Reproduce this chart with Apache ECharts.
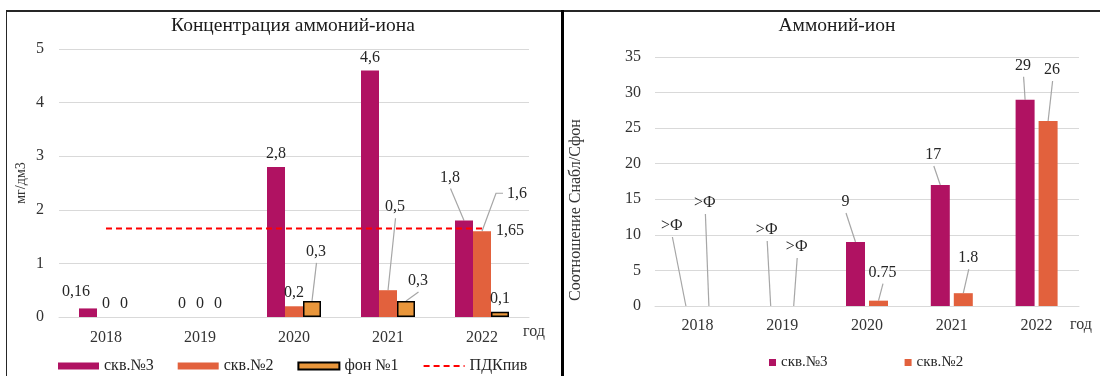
<!DOCTYPE html>
<html>
<head>
<meta charset="utf-8">
<script src="https://cdn.jsdelivr.net/npm/echarts@6/dist/echarts.min.js"></script>
<style>
  html, body { margin: 0; padding: 0; background: #fff; }
  #wrap { position: relative; width: 1100px; height: 376px; overflow: hidden; }
  #chart { position: absolute; left: 0; top: 0; width: 1100px; height: 376px; }
  .frame { position: absolute; background: #262626; pointer-events: none; }
</style>
</head>
<body>
<div id="wrap">
  <div id="chart"></div>
  <!-- panel frames -->
  <div class="frame" style="left:6px;top:10px;width:1px;height:366px"></div>
  <div class="frame" style="left:6px;top:10px;width:1094px;height:2px"></div>
  <div class="frame" style="left:561px;top:10px;width:3px;height:366px;background:#000"></div>
</div>
<script>
// ---- data ----
const years = ['2018', '2019', '2020', '2021', '2022'];

// concentration, mg/dm3
const well3Conc = [0.16, 0, 2.8, 4.6, 1.8];
const well2Conc = [0, 0, 0.2, 0.5, 1.6];
const backgroundConc = [0, 0, 0.3, 0.3, 0.1];
const pdkLimit = 1.65;

// ratio C_obs / C_background (0 = background is zero, shown as ">Ф")
const well3Ratio = [0, 0, 9, 17, 29];
const well2Ratio = [0, 0, 0.75, 1.8, 26];

const seriesNames = ['скв.№3', 'скв.№2', 'фон №1', 'ПДКпив'];

// ---- styling ----
const FONT = '"Liberation Serif", "Times New Roman", serif';
const C_WELL3 = '#b01262';
const C_WELL2 = '#e2613d';
const C_BG = '#e9963b';
const C_GRID = '#d9d9d9';
const C_TEXT = '#262626';
const C_LEADER = '#a6a6a6';

const BAR_W_LEFT = 18, GAP_LEFT = 0;     // touching bars
const BAR_W_RIGHT = 19, GAP_RIGHT = 4;

// label offsets (label centre relative to the top centre of its bar), by data index;
// 'side'  - the leader leaves the label horizontally from its left side
// 'free'  - label is shifted but gets no leader
const moveWell3Conc = { 0: [-12, -17, 'free'], 4: [-14, -43] };
const moveWell2Conc = { 3: [7, -83], 4: [35, -37, 'side'] };
const moveBgConc = { 2: [4, -49], 3: [12, -20] };
const moveWell3Ratio = { 0: [-14, -80], 1: [-4, -76], 2: [-10, -40], 3: [-7, -30], 4: [-2, -34] };
const moveWell2Ratio = { 0: [-4, -103], 1: [3, -59], 2: [4, -28], 3: [5, -35], 4: [4, -51] };

function shifted(moves) {
  return function (p) {
    const m = moves[p.dataIndex];
    if (!m) return null;
    return {
      x: p.rect.x + p.rect.width / 2 + m[0],
      y: p.rect.y + m[1],
      align: 'center',
      verticalAlign: 'middle'
    };
  };
}

// rows for the leader lines: [category, value, slot offset px, dx, dy, side]
function leaderRows(groups, barW, gap) {
  const rows = [];
  const n = groups.length;
  groups.forEach(function (g, k) {
    const slot = (k - (n - 1) / 2) * (barW + gap);
    Object.keys(g.moves).forEach(function (key) {
      const i = Number(key);
      const m = g.moves[key];
      if (m[2] === 'free') return;
      rows.push([i, g.values[i], slot, m[0], m[1], m[2] === 'side' ? 1 : 0]);
    });
  });
  return rows;
}

function renderLeader(params, api) {
  const p = api.coord([api.value(0), api.value(1)]);
  const bx = p[0] + api.value(2);
  const by = p[1];
  const lx = bx + api.value(3);
  const ly = by + api.value(4);
  const pts = api.value(5) === 1
    ? [[lx - 14, ly - 1], [lx - 21, ly - 1], [bx, by]]
    : [[lx + 0.5, ly + 11], [bx, by]];
  return {
    type: 'polyline',
    shape: { points: pts },
    style: { stroke: C_LEADER, lineWidth: 1.2, fill: null },
    silent: true
  };
}

const commaNum = p => String(p.value).replace('.', ',');
const ratioText = p => (p.value === 0 ? '>Ф' : String(p.value));

const labelBase = {
  show: true,
  position: 'top',
  distance: 5,
  fontSize: 16,
  fontFamily: FONT,
  color: C_TEXT
};

const axisText = { fontSize: 16, fontFamily: FONT, color: '#333' };

const option = {
  animation: false,
  textStyle: { fontFamily: FONT },
  graphic: [
    {
      type: 'text', x: 293, y: 26,
      style: { text: 'Концентрация аммоний-иона', font: '19.5px ' + FONT, fill: '#1a1a1a', align: 'center', verticalAlign: 'middle' }
    },
    {
      type: 'text', x: 837, y: 26,
      style: { text: 'Аммоний-ион', font: '19.5px ' + FONT, fill: '#1a1a1a', align: 'center', verticalAlign: 'middle' }
    }
  ],
  legend: [
    {
      left: 58, top: 358, padding: 0,
      itemWidth: 41, itemHeight: 7, itemGap: 24,
      textStyle: { fontSize: 16, fontFamily: FONT, color: C_TEXT },
      data: [
        { name: seriesNames[0], icon: 'rect' },
        { name: seriesNames[1], icon: 'rect' },
        { name: seriesNames[2], icon: 'rect' },
        { name: seriesNames[3], itemStyle: { color: 'rgba(0,0,0,0)', borderWidth: 0, opacity: 0 } }
      ]
    },
    {
      left: 769, top: 355, padding: 0,
      itemWidth: 7, itemHeight: 7, itemGap: 77, icon: 'rect',
      textStyle: { fontSize: 15, fontFamily: FONT, color: C_TEXT },
      data: [seriesNames[0], seriesNames[1]]
    }
  ],
  grid: [
    { left: 59, top: 49, width: 470, height: 268 },
    { left: 655, top: 57, width: 424, height: 249 }
  ],
  xAxis: [
    {
      type: 'category', gridIndex: 0, data: years,
      axisTick: { show: false },
      axisLine: { lineStyle: { color: C_GRID, width: 1 } },
      axisLabel: Object.assign({ margin: 13 }, axisText),
      name: 'год', nameLocation: 'end', nameGap: -6,
      nameTextStyle: Object.assign({ verticalAlign: 'top', padding: [7, 0, 0, 0] }, axisText)
    },
    {
      type: 'category', gridIndex: 1, data: years,
      axisTick: { show: false },
      axisLine: { lineStyle: { color: C_GRID, width: 1 } },
      axisLabel: Object.assign({ margin: 12 }, axisText),
      name: 'год', nameLocation: 'end', nameGap: -9,
      nameTextStyle: Object.assign({ verticalAlign: 'top', padding: [11, 0, 0, 0] }, axisText)
    }
  ],
  yAxis: [
    {
      type: 'value', gridIndex: 0, min: 0, max: 5, interval: 1,
      axisLine: { show: false }, axisTick: { show: false },
      axisLabel: Object.assign({ margin: 15 }, axisText),
      splitLine: { lineStyle: { color: C_GRID, width: 1 } },
      name: 'мг/дм3', nameLocation: 'middle', nameGap: 31,
      nameTextStyle: { fontSize: 14, fontFamily: FONT, color: '#333' }
    },
    {
      type: 'value', gridIndex: 1, min: 0, max: 35, interval: 5,
      axisLine: { show: false }, axisTick: { show: false },
      axisLabel: Object.assign({ margin: 14 }, axisText),
      splitLine: { lineStyle: { color: C_GRID, width: 1 } },
      name: 'Соотношение Снабл/Сфон', nameLocation: 'middle', nameGap: 71,
      nameTextStyle: { fontSize: 16, fontFamily: FONT, color: '#333', padding: [0, 57, 0, 0] }
    }
  ],
  series: [
    {
      name: seriesNames[0], type: 'bar', xAxisIndex: 0, yAxisIndex: 0,
      data: well3Conc, barWidth: BAR_W_LEFT, barGap: '0%',
      itemStyle: { color: C_WELL3 },
      label: Object.assign({ formatter: commaNum }, labelBase),
      labelLayout: shifted(moveWell3Conc)
    },
    {
      name: seriesNames[1], type: 'bar', xAxisIndex: 0, yAxisIndex: 0,
      data: well2Conc, barWidth: BAR_W_LEFT, barGap: '0%',
      itemStyle: { color: C_WELL2 },
      label: Object.assign({ formatter: commaNum }, labelBase),
      labelLayout: shifted(moveWell2Conc)
    },
    {
      name: seriesNames[2], type: 'bar', xAxisIndex: 0, yAxisIndex: 0,
      // an empty (zero) background bar gets no outline
      data: backgroundConc.map(v => (v === 0 ? { value: v, itemStyle: { borderWidth: 0 } } : v)),
      barWidth: BAR_W_LEFT, barGap: '0%',
      itemStyle: { color: C_BG, borderColor: '#000', borderWidth: 1.5 },
      label: Object.assign({ formatter: commaNum }, labelBase),
      labelLayout: shifted(moveBgConc)
    },
    {
      name: seriesNames[3], type: 'line', xAxisIndex: 0, yAxisIndex: 0,
      data: years.map(() => pdkLimit),
      symbol: 'none', z: 5,
      itemStyle: { color: '#ff0000' },
      lineStyle: { color: '#ff0000', width: 2, type: [6, 4] },
      endLabel: {
        show: true, distance: 14, formatter: commaNum,
        fontSize: 16, fontFamily: FONT, color: C_TEXT, offset: [0, 2]
      }
    },
    {
      type: 'custom', xAxisIndex: 0, yAxisIndex: 0, silent: true, z: 1,
      encode: { x: 0, y: 1 },
      data: leaderRows([
        { values: well3Conc, moves: moveWell3Conc },
        { values: well2Conc, moves: moveWell2Conc },
        { values: backgroundConc, moves: moveBgConc }
      ], BAR_W_LEFT, GAP_LEFT),
      renderItem: renderLeader
    },
    {
      name: seriesNames[0], type: 'bar', xAxisIndex: 1, yAxisIndex: 1,
      data: well3Ratio, barWidth: BAR_W_RIGHT, barGap: (GAP_RIGHT / BAR_W_RIGHT * 100) + '%',
      itemStyle: { color: C_WELL3 },
      label: Object.assign({ formatter: ratioText }, labelBase),
      labelLayout: shifted(moveWell3Ratio)
    },
    {
      name: seriesNames[1], type: 'bar', xAxisIndex: 1, yAxisIndex: 1,
      data: well2Ratio, barWidth: BAR_W_RIGHT, barGap: (GAP_RIGHT / BAR_W_RIGHT * 100) + '%',
      itemStyle: { color: C_WELL2 },
      label: Object.assign({ formatter: ratioText }, labelBase),
      labelLayout: shifted(moveWell2Ratio)
    },
    {
      type: 'custom', xAxisIndex: 1, yAxisIndex: 1, silent: true, z: 1,
      encode: { x: 0, y: 1 },
      data: leaderRows([
        { values: well3Ratio, moves: moveWell3Ratio },
        { values: well2Ratio, moves: moveWell2Ratio }
      ], BAR_W_RIGHT, GAP_RIGHT),
      renderItem: renderLeader
    }
  ]
};

const chart = echarts.init(document.getElementById('chart'), null, { renderer: 'canvas' });
chart.setOption(option);
</script>
</body>
</html>
